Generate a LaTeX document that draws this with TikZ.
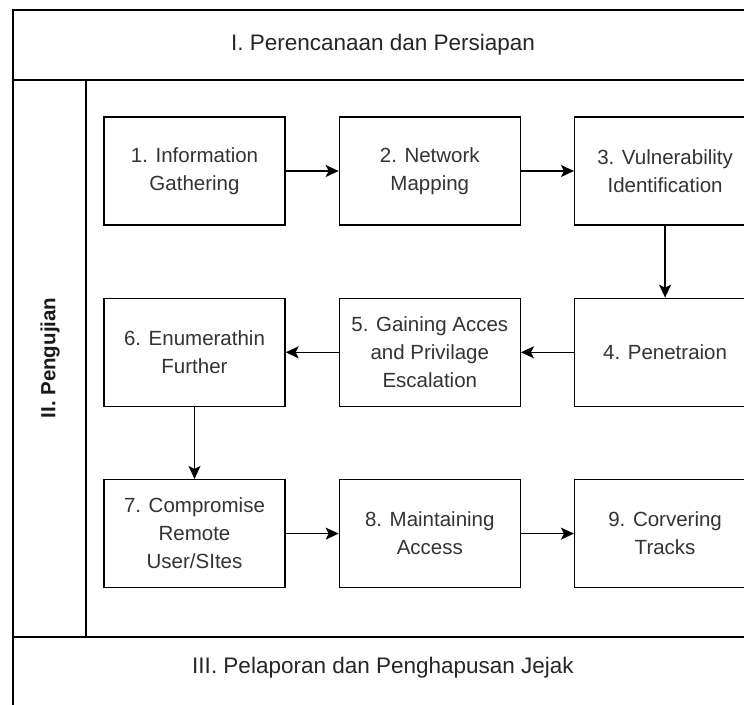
\documentclass[tikz,border=0pt]{standalone}
\usepackage{fontspec}
\setmainfont{Liberation Sans}
\usetikzlibrary{positioning,arrows.meta}

\begin{document}
\begin{tikzpicture}[x=1pt, y=-1pt,
    stepbox/.style={draw, line width=1.3pt, minimum width=181pt, minimum height=108pt,
        inner sep=0pt, align=center, text=black!80, font=\fontsize{20.5}{28}\selectfont},
    flow/.style={line width=1.3pt, -{Stealth[length=13pt,width=12pt,inset=3pt]}},
    lane/.style={line width=1.3pt},
    node distance=72pt and 53pt]
    \clip (0,0) rectangle (744,704);
    \fill[white] (0,0) rectangle (744,704);

    % --- Pool frame and lanes ---
    \draw[lane] (13,10) rectangle (780,740);
    \draw[lane] (13,80) -- (780,80);
    \draw[lane] (13,637) -- (780,637);
    \draw[lane] (86,80) -- (86,637);

    % Lane titles
    \node[text=black!85, font=\fontsize{22.5}{27}\selectfont] (plan) at (383,45) {I. Perencanaan dan Persiapan};
    \node[rotate=90, text=black!90, font=\bfseries\fontsize{20.5}{25}\selectfont] (test) at (50,358) {II. Pengujian};
    \node[text=black!85, font=\fontsize{22.5}{27}\selectfont] (report) at (383,668) {III. Pelaporan dan Penghapusan Jejak};

    % --- Steps ---
    \node[stepbox] (info) at (194.5,171) {1. Information\\Gathering};
    \node[stepbox, right=of info] (map) {2. Network\\Mapping};
    \node[stepbox, right=of map] (vuln) {3. Vulnerability\\Identification};
    \node[stepbox, below=of vuln] (pen) {4. Penetraion};
    \node[stepbox, below=of map] (gain) {5. Gaining Acces\\and Privilage\\Escalation};
    \node[stepbox, below=of info] (enum) {6. Enumerathin\\Further};
    \node[stepbox, below=of enum] (comp) {7. Compromise\\Remote\\User/SItes};
    \node[stepbox, right=of comp] (maint) {8. Maintaining\\Access};
    \node[stepbox, right=of maint] (track) {9. Corvering\\Tracks};

    % --- Flow ---
    \draw[flow] (info) -- (map);
    \draw[flow] (map) -- (vuln);
    \draw[flow] (vuln) -- (pen);
    \draw[flow] (pen) -- (gain);
    \draw[flow] (gain) -- (enum);
    \draw[flow] (enum) -- (comp);
    \draw[flow] (comp) -- (maint);
    \draw[flow] (maint) -- (track);
\end{tikzpicture}
\end{document}
